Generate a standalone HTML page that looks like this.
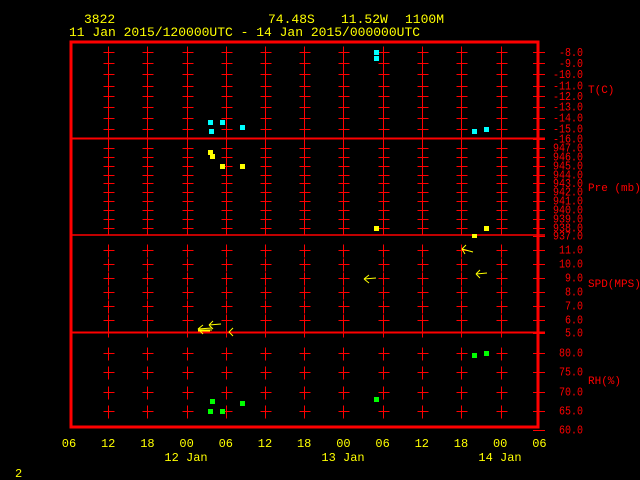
<!DOCTYPE html>
<html><head><meta charset="utf-8"><style>
html,body{margin:0;padding:0;background:#000;width:640px;height:480px;overflow:hidden}
svg{display:block}
text{font-family:"Liberation Mono",monospace}
</style></head><body>
<svg width="640" height="480" viewBox="0 0 640 480" xmlns="http://www.w3.org/2000/svg">
<g fill="#ffff00" font-size="13">
<text x="84" y="23">3822</text>
<text x="268" y="23">74.48S</text>
<text x="341" y="23">11.52W</text>
<text x="405" y="23">1100M</text>
<text x="69" y="36">11 Jan 2015/120000UTC - 14 Jan 2015/000000UTC</text>
</g>
<g id="grid" stroke="#ff0000" stroke-width="1" shape-rendering="crispEdges"></g>
<g stroke="#ff0000" stroke-width="2" shape-rendering="crispEdges">
<line x1="71" y1="138.5" x2="545" y2="138.5"/>
<line x1="71" y1="332.5" x2="545" y2="332.5"/>
</g>
<line x1="71" y1="235" x2="545" y2="235" stroke="#ff0000" stroke-width="1.5"/>
<rect x="71" y="42" width="467" height="385" fill="none" stroke="#ff0000" stroke-width="3"/>
<g id="rlab" fill="#ff0000" font-size="11.5" text-anchor="end"></g>
<g fill="#ff0000" font-size="11">
<text x="588" y="93">T(C)</text>
<text x="588" y="191">Pre (mb)</text>
<text x="588" y="287">SPD(MPS)</text>
<text x="588" y="384">RH(%)</text>
</g>
<g fill="#00ffff">
<rect x="208" y="120" width="5" height="5"/><rect x="220" y="120" width="5" height="5"/>
<rect x="209" y="129" width="5" height="5"/><rect x="240" y="125" width="5" height="5"/>
<rect x="374" y="50" width="5" height="5"/><rect x="374" y="56" width="5" height="5"/>
<rect x="472" y="129" width="5" height="5"/><rect x="484" y="127" width="5" height="5"/>
</g>
<g fill="#ffff00">
<rect x="208" y="150" width="5" height="5"/><rect x="210" y="154" width="5" height="5"/>
<rect x="220" y="164" width="5" height="5"/><rect x="240" y="164" width="5" height="5"/>
<rect x="374" y="226" width="5" height="5"/><rect x="472" y="234" width="5" height="4"/>
<rect x="484" y="226" width="5" height="5"/>
</g>
<g fill="#00ff00">
<rect x="210" y="399" width="5" height="5"/><rect x="208" y="409" width="5" height="5"/>
<rect x="220" y="409" width="5" height="5"/><rect x="240" y="401" width="5" height="5"/>
<rect x="374" y="397" width="5" height="5"/><rect x="472" y="353" width="5" height="5"/>
<rect x="484" y="351" width="5" height="5"/>
</g>
<g stroke="#ffff00" stroke-width="1" fill="none">
<path d="M364 279 L376 278 M364 279 L369 275 M364 279 L369 283"/>
<path d="M462 249 L473 252 M462 249 L466 245 M462 249 L465 254"/>
<path d="M476 274 L487 273 M476 274 L480 270 M476 274 L480 278"/>
<path d="M209 325 L221 324 M209 325 L213 321 M209 325 L213 329"/>
<path d="M198 329 L212 328 M198 330 L212 330 M198 329 L203 325 M198 329 L203 334 M198 331 L210 331"/>
<path d="M233 328 L229 332 L233 336"/>
</g>
<g id="blab" fill="#ffff00" font-size="12" text-anchor="middle"></g>
<g fill="#ffff00" font-size="12" text-anchor="middle">
<text x="186" y="461">12 Jan</text>
<text x="343" y="461">13 Jan</text>
<text x="500" y="461">14 Jan</text>
</g>
<text x="15" y="477" fill="#ffff00" font-size="12">2</text>
<script>
var ns="http://www.w3.org/2000/svg";
var cols=[108,147,186.5,225.5,265,304,343,382.5,421.5,461,500.5];
var tT=[52,63,74,85.5,96,106.5,117.5,128.5];
var tP=[147.5,156.5,165.5,174.5,183,191.5,200.5,209.5,218.5,227.5];
var tS=[249.5,263.5,277.5,291.5,305.5,319.5];
var tR=[352.5,371.5,391.5,410.5];
var g=document.getElementById('grid');
function L(x1,y1,x2,y2){var l=document.createElementNS(ns,'line');l.setAttribute('x1',x1);l.setAttribute('y1',y1);l.setAttribute('x2',x2);l.setAttribute('y2',y2);g.appendChild(l);}
var all=[].concat(tT,tP,tS,tR);
cols.forEach(function(x){x=Math.round(x)+0.5;all.forEach(function(y){y=Math.round(y)+0.5;L(x-5,y,x+6,y);L(x,y-6,x,y+7);});
[138.5,332.5].forEach(function(y){L(x,y-5,x,y+5);});});
var rl=[[52,"-8.0"],[63,"-9.0"],[74,"-10.0"],[85.5,"-11.0"],[96,"-12.0"],[106.5,"-13.0"],[117.5,"-14.0"],[128.5,"-15.0"],[138.5,"-16.0"],
[147.5,"947.0"],[156.5,"946.0"],[165.5,"945.0"],[174.5,"944.0"],[183,"943.0"],[191.5,"942.0"],[200.5,"941.0"],[209.5,"940.0"],[218.5,"939.0"],[227.5,"938.0"],[235.5,"937.0"],
[249.5,"11.0"],[263.5,"10.0"],[277.5,"9.0"],[291.5,"8.0"],[305.5,"7.0"],[319.5,"6.0"],[332.5,"5.0"],
[352.5,"80.0"],[371.5,"75.0"],[391.5,"70.0"],[410.5,"65.0"],[429.5,"60.0"]];
var r=document.getElementById('rlab');
rl.forEach(function(a){var y=Math.round(a[0])+0.5;L(533,y,545,y);var t=document.createElementNS(ns,'text');t.setAttribute('x',583);t.setAttribute('y',a[0]+4);t.setAttribute('textLength',a[1].length*6);t.setAttribute('lengthAdjust','spacingAndGlyphs');t.textContent=a[1];r.appendChild(t);});
var b=document.getElementById('blab');var bl=["06","12","18","00","06","12","18","00","06","12","18","00","06"];
bl.forEach(function(s,i){var t=document.createElementNS(ns,'text');t.setAttribute('x',69+i*39.2);t.setAttribute('y',447);t.textContent=s;b.appendChild(t);});
</script>
</svg>
</body></html>
